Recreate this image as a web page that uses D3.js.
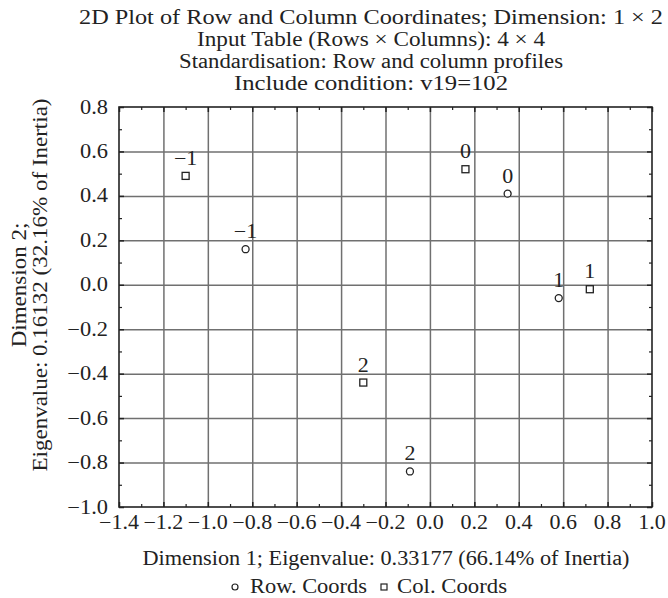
<!DOCTYPE html>
<html>
<head>
<meta charset="utf-8">
<script src="https://cdn.jsdelivr.net/npm/d3@7"></script>
<style>
	body { margin: 0; background: #fff; }
	text { font-family: "Liberation Serif", serif; fill: #222; font-size: 20px; }
</style>
</head>
<body>
<script>
// correspondence analysis, dims 1 x 2
const titleLines = [
	"2D Plot of Row and Column Coordinates; Dimension:  1 \u00d7  2",
	"Input Table (Rows \u00d7 Columns): 4 \u00d7 4",
	"Standardisation: Row and column profiles",
	"Include condition: v19=102"
];
const rowLabels = ["\u22121", "0", "1", "2"];
const rowX = [-0.83, 0.35, 0.58, -0.09];
const rowY = [0.16, 0.41, -0.06, -0.84];
const colLabels = ["\u22121", "0", "1", "2"];
const colX = [-1.10, 0.16, 0.72, -0.30];
const colY = [0.49, 0.52, -0.02, -0.44];
const xTicks = [-1.4, -1.2, -1.0, -0.8, -0.6, -0.4, -0.2, 0.0, 0.2, 0.4, 0.6, 0.8, 1.0];
const yTicks = [-1.0, -0.8, -0.6, -0.4, -0.2, 0.0, 0.2, 0.4, 0.6, 0.8];
const xTitle = "Dimension 1; Eigenvalue: 0.33177 (66.14% of Inertia)";
const yTitle = ["Dimension 2;", "Eigenvalue: 0.16132 (32.16% of Inertia)"];
const legendItems = ["Row. Coords", "Col. Coords"];

const width = 668, height = 598;
const pLeft = 119, pRight = 652, pTop = 107, pBottom = 507;

const svg = d3.select("body").append("svg")
	.attr("width", width)
	.attr("height", height);

const x = d3.scaleLinear().domain([-1.4, 1.0]).range([pLeft, pRight]);
const y = d3.scaleLinear().domain([-1.0, 0.8]).range([pBottom, pTop]);
const fmt = d3.format(".1f");

// the reference type is wider than Liberation Serif, so widen the glyphs a bit
function stretch(sel, k) {
	sel.each(function() {
		const w = this.getComputedTextLength();
		d3.select(this).attr("textLength", w*k).attr("lengthAdjust", "spacingAndGlyphs");
	});
}

// title
const titleWidths = [584, 348, 384, 274];
svg.append("g").selectAll("text")
	.data(titleLines)
	.join("text")
	.attr("x", 371)
	.attr("y", (d, i) => 24 + i*22)
	.attr("text-anchor", "middle")
	.attr("textLength", (d, i) => titleWidths[i])
	.attr("lengthAdjust", "spacingAndGlyphs")
	.text(d => d);

// grid
const gx = svg.append("g")
	.attr("transform", `translate(0,${pBottom})`)
	.call(d3.axisBottom(x).tickValues(xTicks.slice(1, -1)).tickSize(-(pBottom - pTop)).tickFormat(""));
const gy = svg.append("g")
	.attr("transform", `translate(${pLeft},0)`)
	.call(d3.axisLeft(y).tickValues(yTicks.slice(1, -1)).tickSize(-(pRight - pLeft)).tickFormat(""));
[gx, gy].forEach(g => {
	g.select(".domain").remove();
	g.selectAll(".tick line").attr("stroke", "#707070").attr("stroke-width", 1.5);
});

// ticks inward on all four sides
const minorX = xTicks.slice(0, -1).map(d => d + 0.1);
const minorY = yTicks.slice(0, -1).map(d => d + 0.1);

const sides = [
	{mk: () => d3.axisBottom(x), t: `translate(0,${pBottom})`, major: xTicks, minor: minorX},
	{mk: () => d3.axisTop(x), t: `translate(0,${pTop})`, major: xTicks, minor: minorX},
	{mk: () => d3.axisLeft(y), t: `translate(${pLeft},0)`, major: yTicks, minor: minorY},
	{mk: () => d3.axisRight(y), t: `translate(${pRight},0)`, major: yTicks, minor: minorY}
];
sides.forEach(s => {
	[[s.minor, 3, 1.2], [s.major, 5, 1.5]].forEach(([vals, size, sw]) => {
		const g = svg.append("g")
			.attr("transform", s.t)
			.call(s.mk().tickValues(vals).tickSize(-size).tickFormat(""));
		g.select(".domain").remove();
		g.selectAll("line").attr("stroke", "#222").attr("stroke-width", sw);
	});
});

// frame
svg.append("rect")
	.attr("x", pLeft).attr("y", pTop)
	.attr("width", pRight - pLeft).attr("height", pBottom - pTop)
	.attr("fill", "none").attr("stroke", "#222").attr("stroke-width", 1.6);

// tick labels
svg.append("g").selectAll("text").data(xTicks).join("text")
	.attr("x", d => x(d))
	.attr("y", 529)
	.attr("text-anchor", "middle")
	.text(d => fmt(d))
	.call(stretch, 1.1);
svg.append("g").selectAll("text").data(yTicks).join("text")
	.attr("x", 108)
	.attr("y", d => y(d) + 6.5)
	.attr("text-anchor", "end")
	.text(d => fmt(d))
	.call(stretch, 1.12);

// axis titles
svg.append("text")
	.attr("x", 386).attr("y", 565)
	.attr("text-anchor", "middle")
	.attr("textLength", 487)
	.attr("lengthAdjust", "spacingAndGlyphs")
	.text(xTitle);

svg.append("g").selectAll("text").data(yTitle).join("text")
	.attr("transform", (d, i) => `translate(${26 + i*21},285) rotate(-90)`)
	.attr("text-anchor", "middle")
	.text(d => d)
	.call(stretch, 1.15);

// points
const rows = rowX.map((v, i) => ({x: v, y: rowY[i], label: rowLabels[i]}));
const cols = colX.map((v, i) => ({x: v, y: colY[i], label: colLabels[i]}));

svg.append("g").selectAll("circle").data(rows).join("circle")
	.attr("cx", d => x(d.x)).attr("cy", d => y(d.y))
	.attr("r", 3.5)
	.attr("fill", "#fff").attr("stroke", "#222").attr("stroke-width", 1.3);

svg.append("g").selectAll("rect").data(cols).join("rect")
	.attr("x", d => x(d.x) - 3.5).attr("y", d => y(d.y) - 3.5)
	.attr("width", 7).attr("height", 7)
	.attr("fill", "#fff").attr("stroke", "#222").attr("stroke-width", 1.3);

svg.append("g").selectAll("text").data(rows.concat(cols)).join("text")
	.attr("x", d => x(d.x))
	.attr("y", d => y(d.y) - 11)
	.attr("text-anchor", "middle")
	.text(d => d.label)
	.call(stretch, 1.1);

// legend
const leg = svg.append("g");
leg.append("circle").attr("cx", 235).attr("cy", 587).attr("r", 3)
	.attr("fill", "#fff").attr("stroke", "#222").attr("stroke-width", 1.2);
leg.append("text").attr("x", 250).attr("y", 593)
	.attr("textLength", 117).attr("lengthAdjust", "spacingAndGlyphs")
	.text(legendItems[0]);
leg.append("rect").attr("x", 381).attr("y", 584).attr("width", 6).attr("height", 6)
	.attr("fill", "#fff").attr("stroke", "#222").attr("stroke-width", 1.2);
leg.append("text").attr("x", 397).attr("y", 593)
	.attr("textLength", 110).attr("lengthAdjust", "spacingAndGlyphs")
	.text(legendItems[1]);
</script>
</body>
</html>
